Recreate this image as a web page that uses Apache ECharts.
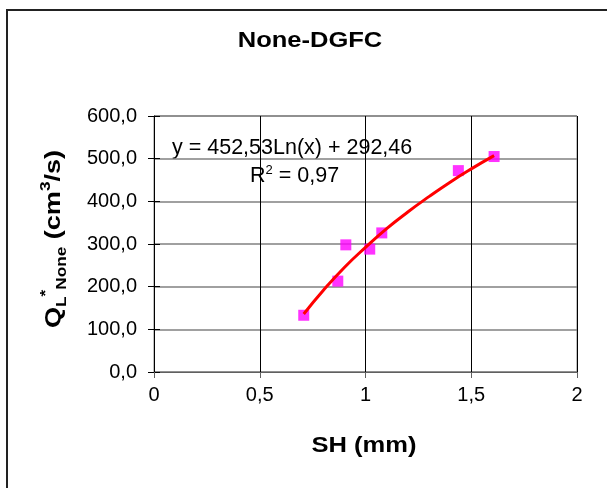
<!DOCTYPE html>
<html>
<head>
<meta charset="utf-8">
<script src="https://cdn.jsdelivr.net/npm/echarts@6/dist/echarts.min.js"></script>
<style>html,body{margin:0;padding:0;background:#fff;}#c{width:607px;height:488px;}</style>
</head>
<body>
<div id="c"></div>
<script>
// Measured points (SH in mm, Q in cm3/s)
const shValues = [0.708, 0.869, 0.907, 1.020, 1.077, 1.439, 1.608];
const qValues  = [133, 213, 298, 288, 326, 472, 505];
// Logarithmic trend line
const trendX = [0.708, 0.8, 0.9, 1.0, 1.1, 1.2, 1.3, 1.4, 1.5, 1.608];
const trendY = [136, 191, 245, 292, 336, 375, 411, 445, 476, 507];
const xTicks = ['0', '0,5', '1', '1,5', '2'];
const chartTitle = 'None-DGFC';
const xName = 'SH (mm)';
const eqText = 'y = 452,53Ln(x) + 292,46';
const r2Text = '0,97';

const FONT = '"Liberation Sans", Arial, sans-serif';
const chart = echarts.init(document.getElementById('c'), null, {renderer: 'canvas'});

function fmtY(v) { return v.toFixed(1).replace('.', ','); }
function fmtX(v) { return String(v).replace('.', ','); }

chart.setOption({
  animation: false,
  backgroundColor: '#fff',
  grid: {left: 154, right: 30, top: 116, bottom: 116, show: true, borderColor: '#808080', borderWidth: 1, backgroundColor: '#fff'},
  xAxis: {
    type: 'value', min: 0, max: 2, interval: 0.5,
    axisLine: {onZero: false, lineStyle: {color: '#606060', width: 1}},
    axisTick: {show: true, inside: false, length: 6, lineStyle: {color: '#606060'}},
    axisLabel: {fontFamily: FONT, fontSize: 20, color: '#000', margin: 13, formatter: fmtX},
    splitLine: {show: true, lineStyle: {color: '#000', width: 1}}
  },
  yAxis: [{
    type: 'value', min: 0, max: 600, interval: 100,
    axisLine: {show: true, lineStyle: {color: '#000', width: 1}},
    axisTick: {show: true, inside: false, length: 6, lineStyle: {color: '#000'}},
    axisLabel: {fontFamily: FONT, fontSize: 20, color: '#000', margin: 17, formatter: fmtY},
    splitLine: {show: true, lineStyle: {color: '#808080', width: 1.5}}
  }, {
    type: 'value', min: 0, max: 600, interval: 100, position: 'left',
    axisLine: {show: false},
    axisTick: {show: true, inside: true, length: 6, lineStyle: {color: '#000'}},
    axisLabel: {show: false},
    splitLine: {show: false}
  }],
  series: [{
    type: 'line',
    data: trendX.map((x, i) => [x, trendY[i]]),
    smooth: true, showSymbol: false, symbol: 'none',
    lineStyle: {color: '#ff0000', width: 3}, z: 2
  }, {
    type: 'scatter',
    data: shValues.map((x, i) => [x, qValues[i]]),
    symbol: 'rect', symbolSize: 11,
    itemStyle: {color: '#ff00ff'}, z: 1
  }],
  graphic: [
    {type: 'rect', shape: {x: 7, y: 10, width: 700, height: 600}, style: {fill: 'none', stroke: '#222', lineWidth: 2}, z: -10, silent: true},
    {type: 'text', x: 310, y: 41, scaleX: 1.16, style: {text: chartTitle, font: 'bold 22px ' + FONT, fill: '#000', align: 'center', verticalAlign: 'middle'}},
    {type: 'text', x: 364, y: 446, scaleX: 1.16, style: {text: xName, font: 'bold 22px ' + FONT, fill: '#000', align: 'center', verticalAlign: 'middle'}},
    {type: 'text', x: 172, y: 148, style: {text: eqText, font: '21.5px ' + FONT, fill: '#000', align: 'left', verticalAlign: 'middle'}},
    {type: 'text', x: 250, y: 176, style: {
      text: '{a|R}{s|2}{a| = ' + r2Text + '}', align: 'left', verticalAlign: 'middle',
      rich: {
        a: {fontFamily: FONT, fontSize: 21.5, color: '#000', lineHeight: 24},
        s: {fontFamily: FONT, fontSize: 13, color: '#000', lineHeight: 13, verticalAlign: 'top'}
      }}},
    {type: 'text', x: 54, y: 239, rotation: Math.PI / 2, scaleX: 1.23, style: {
      text: '{m|Q}{sub|L}{sup|*}{sub|None}{m| (cm}{sup|3}{m|/s)}', align: 'center', verticalAlign: 'middle',
      rich: {
        m: {fontFamily: FONT, fontWeight: 'bold', fontSize: 22, color: '#000', lineHeight: 30},
        sub: {fontFamily: FONT, fontWeight: 'bold', fontSize: 14, color: '#000', lineHeight: 14, verticalAlign: 'bottom'},
        sup: {fontFamily: FONT, fontWeight: 'bold', fontSize: 14, color: '#000', lineHeight: 14, verticalAlign: 'top'}
      }}}
  ]
});
</script>
</body>
</html>
